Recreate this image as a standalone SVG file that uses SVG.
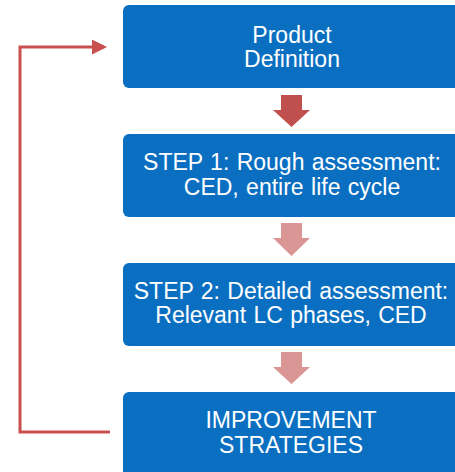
<svg xmlns="http://www.w3.org/2000/svg" width="455" height="472" viewBox="0 0 455 472">
<defs>
<style>
.box{fill:#0b6fc1;}
.t{fill:#ffffff;font-family:"Liberation Sans",Arial,sans-serif;font-size:23px;text-anchor:middle;word-spacing:1px;}
.fb{fill:none;stroke:#c9504f;stroke-width:3;}
</style>
<marker id="ah" markerWidth="5" markerHeight="5" refX="4" refY="2.5" orient="auto" markerUnits="strokeWidth">
<path d="M0,0 L5,2.5 L0,5 Z" fill="#c9504f"/>
</marker>
</defs>
<rect width="455" height="472" fill="#ffffff"/>
<g id="node-product">
<rect class="box" x="123" y="5" width="345" height="83" rx="6"/>
<text class="t" x="292" y="43">Product</text>
<text class="t" x="292" y="67">Definition</text>
</g>
<g id="node-step1">
<rect class="box" x="123" y="134" width="345" height="83" rx="6"/>
<text class="t" x="292" y="170">STEP 1: Rough assessment:</text>
<text class="t" x="292" y="195">CED, entire life cycle</text>
</g>
<g id="node-step2">
<rect class="box" x="123" y="263" width="345" height="83" rx="6"/>
<text class="t" x="291" y="299">STEP 2: Detailed assessment:</text>
<text class="t" x="291" y="323">Relevant LC phases, CED</text>
</g>
<g id="node-improvement">
<rect class="box" x="123" y="392" width="345" height="90" rx="6"/>
<text class="t" x="291" y="428">IMPROVEMENT</text>
<text class="t" x="291" y="453">STRATEGIES</text>
</g>
<g id="connectors">
<path d="M281,95 H302 V110 H310 L291.5,127 L273,110 H281 Z" fill="#c0504d"/>
<path d="M281,223 H302 V238 H310 L291.5,256 L273,238 H281 Z" fill="#d99694"/>
<path d="M281,352 H302 V367 H310 L291.5,384 L273,367 H281 Z" fill="#d99694"/>
<path class="fb" d="M110,432 H20 V47 H104" marker-end="url(#ah)"/>
</g>
</svg>
